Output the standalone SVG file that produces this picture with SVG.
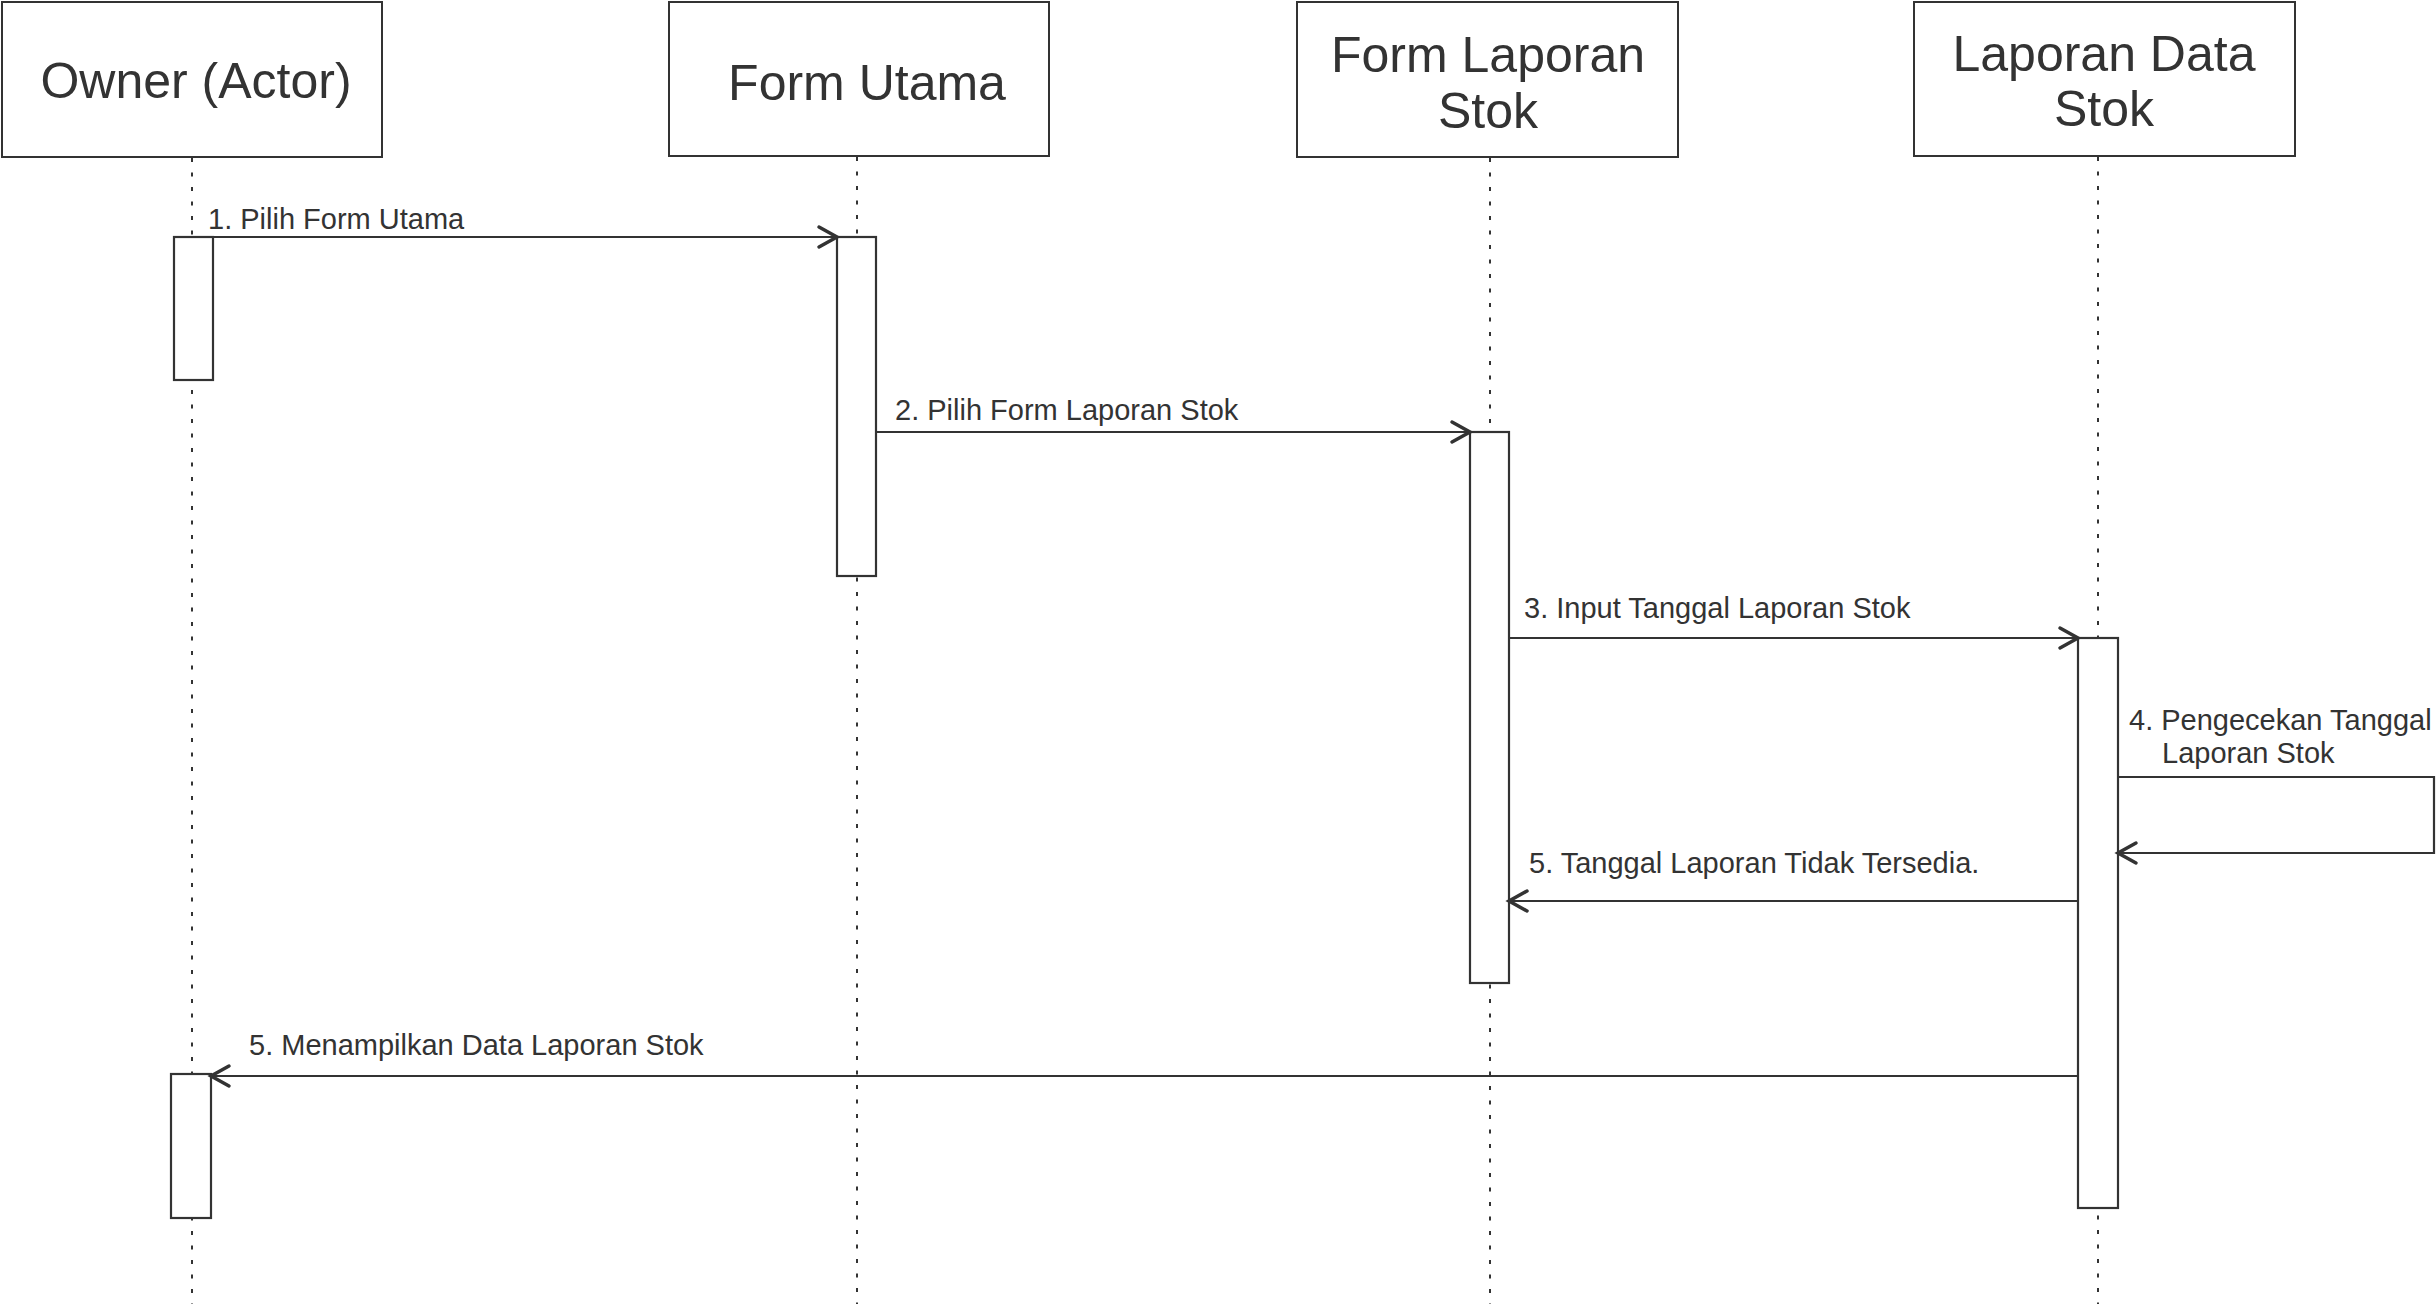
<svg xmlns="http://www.w3.org/2000/svg" width="2436" height="1304" viewBox="0 0 2436 1304">
  <style>
    .head { fill: #ffffff; stroke: #333333; stroke-width: 2; }
    .life { stroke: #333333; stroke-width: 2; stroke-dasharray: 4 10.5; fill: none; }
    .act { fill: #ffffff; stroke: #333333; stroke-width: 2.2; }
    .msg { stroke: #333333; stroke-width: 2.2; fill: none; marker-end: url(#open); }
    .title { font-family: "Liberation Sans", Arial, sans-serif; font-size: 50px; fill: #333333; text-anchor: middle; }
    .lbl { font-family: "Liberation Sans", Arial, sans-serif; font-size: 29px; fill: #333333; }
  </style>
  <defs>
    <marker id="open" viewBox="-25 -15 30 30" markerWidth="30" markerHeight="30" refX="0" refY="0" orient="auto" markerUnits="userSpaceOnUse" overflow="visible">
      <path d="M-18,-10 L0,0 L-18,10" fill="none" stroke="#333333" stroke-width="3.5" stroke-linecap="round" stroke-linejoin="miter"/>
    </marker>
  </defs>
  <rect width="2436" height="1304" fill="#ffffff"/>

  <!-- lifelines -->
  <g id="lifelines">
    <line class="life" x1="192" y1="158" x2="192" y2="1304"/>
    <line class="life" x1="857" y1="157" x2="857" y2="1304"/>
    <line class="life" x1="1490" y1="158" x2="1490" y2="1304"/>
    <line class="life" x1="2098" y1="157" x2="2098" y2="1304"/>
  </g>

  <!-- participants -->
  <g id="owner">
    <rect class="head" x="2" y="2" width="380" height="155"/>
    <text class="title" x="196" y="98">Owner (Actor)</text>
    <rect class="act" x="174" y="237" width="39" height="143"/>
    <rect class="act" x="171" y="1074" width="40" height="144"/>
  </g>
  <g id="form-utama">
    <rect class="head" x="669" y="2" width="380" height="154"/>
    <text class="title" x="867" y="100">Form Utama</text>
    <rect class="act" x="837" y="237" width="39" height="339"/>
  </g>
  <g id="form-laporan-stok">
    <rect class="head" x="1297" y="2" width="381" height="155"/>
    <text class="title" x="1488" y="72">Form Laporan</text>
    <text class="title" x="1488" y="128">Stok</text>
    <rect class="act" x="1470" y="432" width="39" height="551"/>
  </g>
  <g id="laporan-data-stok">
    <rect class="head" x="1914" y="2" width="381" height="154"/>
    <text class="title" x="2104" y="71">Laporan Data</text>
    <text class="title" x="2104" y="126">Stok</text>
    <rect class="act" x="2078" y="638" width="40" height="570"/>
  </g>

  <!-- messages -->
  <g id="connectors">
    <path class="msg" d="M213,237 H837"/>
    <path class="msg" d="M876,432 H1470"/>
    <path class="msg" d="M1509,638 H2078"/>
    <path class="msg" d="M2118,777 H2434 V853 H2118"/>
    <path class="msg" d="M2078,901 H1509"/>
    <path class="msg" d="M2078,1076 H211"/>
  </g>

  <g id="labels">
    <text class="lbl" x="208" y="229">1. Pilih Form Utama</text>
    <text class="lbl" x="895" y="420">2. Pilih Form Laporan Stok</text>
    <text class="lbl" x="1524" y="618">3. Input Tanggal Laporan Stok</text>
    <text class="lbl" x="2129" y="730">4. Pengecekan Tanggal</text>
    <text class="lbl" x="2162" y="763">Laporan Stok</text>
    <text class="lbl" x="1529" y="873">5. Tanggal Laporan Tidak Tersedia.</text>
    <text class="lbl" x="249" y="1055">5. Menampilkan Data Laporan Stok</text>
  </g>
</svg>
